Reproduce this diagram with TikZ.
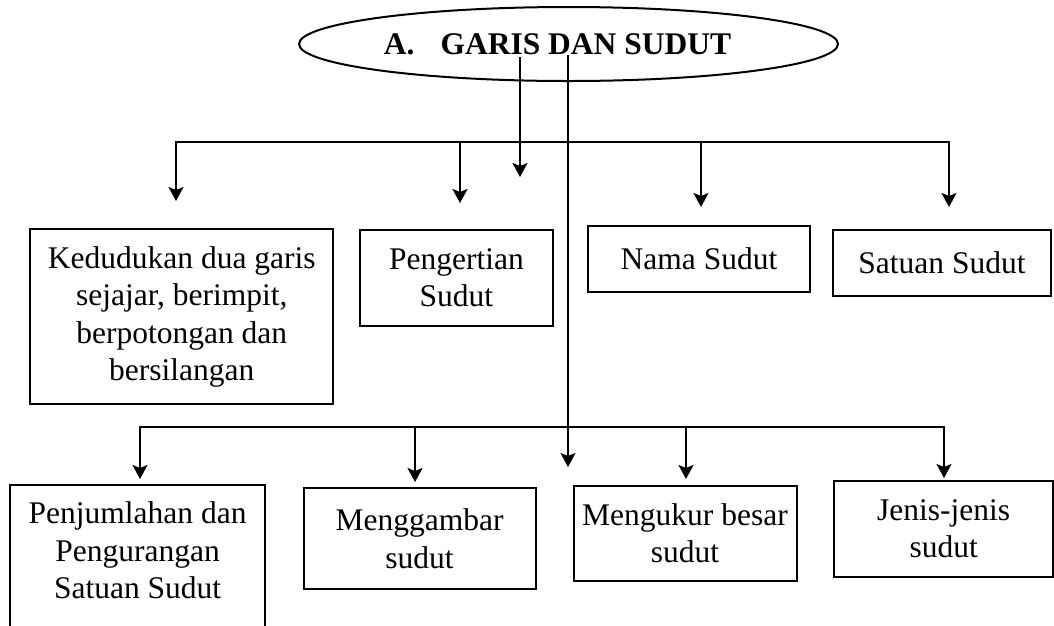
\documentclass[tikz,border=0pt]{standalone}
\usepackage{fontspec}
\setmainfont{Liberation Serif}
\usetikzlibrary{shapes.geometric,arrows.meta}

\begin{document}
\begin{tikzpicture}[x=1pt,y=-1pt,line width=2pt,
  every node/.style={font=\fontsize{31.5}{37.5}\selectfont},
  box/.style={draw,align=center,inner sep=0pt},
  arr/.style={-{Stealth[length=14pt,width=15pt,inset=3pt]}}]
\useasboundingbox (0,0) rectangle (1054,625);
\clip (0,0) rectangle (1054,625);
\node[draw,ellipse,minimum width=539pt,minimum height=74pt,inner sep=0pt] (title) at (568.5,44) {};
\node[font=\fontsize{31.5}{37.5}\selectfont\bfseries,inner sep=0pt] (titletext) at (557.5,44) {A.\hspace{26pt}GARIS DAN SUDUT};
\node[box,minimum width=303pt,minimum height=175pt] (ked) at (181.8,316.8) {Kedudukan dua garis\\sejajar, berimpit,\\berpotongan dan\\bersilangan};
\node[box,minimum width=193pt,minimum height=96pt] (peng) at (456.4,277.6) {Pengertian\\Sudut};
\node[box,minimum width=222pt,minimum height=66pt] (nama) at (699,259) {Nama Sudut};
\node[box,minimum width=218pt,minimum height=66pt] (sat) at (942,263) {Satuan Sudut};
\node[box,anchor=north,minimum width=255pt,inner ysep=17pt,text depth=150pt] (penj) at (137.6,484) {Penjumlahan dan\\Pengurangan\\Satuan Sudut};
\node[box,minimum width=232pt,minimum height=101pt] (gbr) at (419.6,538.5) {Menggambar\\sudut};
\node[box,minimum width=223pt,minimum height=95pt] (ukur) at (685,533.3) {Mengukur besar\\sudut};
\node[box,minimum width=219pt,minimum height=96pt] (jenis) at (943.7,528.7) {Jenis-jenis\\sudut};
\coordinate (t1) at (520,57);
\coordinate (t1e) at (520,177);
\coordinate (t2) at (568,55);
\coordinate (t2e) at (568,467);
\coordinate (bus1) at (568,142);
\coordinate (bus2) at (568,426.5);
\foreach \n/\x/\y in {ked/176/201,peng/460/203,nama/701/207,sat/949/207,penj/140/479,gbr/415/482,ukur/686/479,jenis/944/478}
  \coordinate (\n-tip) at (\x,\y);
\draw[arr] (t1) -- (t1e);
\draw[arr] (t2) -- (t2e);
\draw[arr] (bus1) -| (ked-tip);
\draw[arr] (bus1) -| (sat-tip);
\draw[arr] (bus1 -| peng-tip) -- (peng-tip);
\draw[arr] (bus1 -| nama-tip) -- (nama-tip);
\draw[arr] (bus2) -| (penj-tip);
\draw[arr] (bus2) -| (jenis-tip);
\draw[arr] (bus2 -| gbr-tip) -- (gbr-tip);
\draw[arr] (bus2 -| ukur-tip) -- (ukur-tip);
\end{tikzpicture}
\end{document}
